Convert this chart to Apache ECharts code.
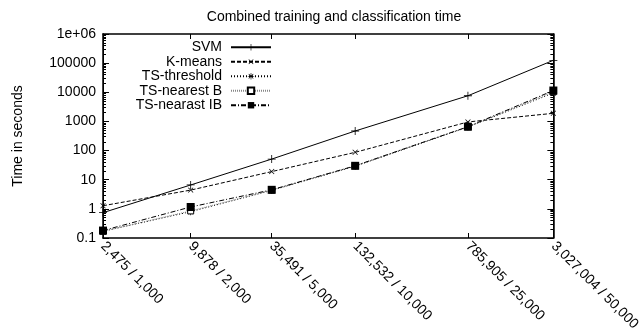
<!DOCTYPE html>
<html><head><meta charset="utf-8">
<script src="https://cdn.jsdelivr.net/npm/echarts@6/dist/echarts.min.js"></script>
<style>html,body{margin:0;padding:0;background:#fff}#c{width:643px;height:335px}</style>
</head><body><div id="c"></div>
<script>
const instances = [2475, 9878, 35491, 132532, 785905, 3027004];
const categories = ['2,475 / 1,000', '9,878 / 2,000', '35,491 / 5,000', '132,532 / 10,000', '785,905 / 25,000', '3,027,004 / 50,000'];
const svm = [0.74, 6.6, 51, 470, 7600, 125000];
const kmeans = [1.28, 4.4, 19, 87, 960, 1900];
const tsThreshold = [0.17, 0.8, 4.3, 29, 640, 9500];
const tsNearestB = [0.17, 0.85, 4.4, 30, 650, 10500];
const tsNearestIB = [0.18, 1.16, 4.5, 30, 660, 11500];
const yTicks = [0.1, 1, 10, 100, 1000, 10000, 100000, 1000000];
const yTickLabels = ['0.1', '1', '10', '100', '1000', '10000', '100000', '1e+06'];

const minorY = [];
for (let d = -1; d < 6; d++) for (let m = 2; m <= 9; m++) minorY.push(m * Math.pow(10, d));

function nearestIdx(arr, v) {
  let best = 0, bd = Infinity;
  arr.forEach((a, i) => { const d = Math.abs(Math.log10(a) - Math.log10(v)); if (d < bd) { bd = d; best = i; } });
  return best;
}
const font = 'Liberation Sans, Arial, sans-serif';
const plus = 'path://M4.5,0 h1 v4.5 h4.5 v1 h-4.5 v4.5 h-1 v-4.5 h-4.5 v-1 h4.5 z';
const star = 'path://M4.5,0 h1 v3.8 l2.7,-2.7 l0.7,0.7 l-2.7,2.7 h3.8 v1 h-3.8 l2.7,2.7 l-0.7,0.7 l-2.7,-2.7 v3.8 h-1 v-3.8 l-2.7,2.7 l-0.7,-0.7 l2.7,-2.7 h-3.8 v-1 h3.8 l-2.7,-2.7 l0.7,-0.7 l2.7,2.7 z';

const xmin = instances[0], xmax = instances[instances.length - 1];
const yAxisBase = { type: 'log', logBase: 10, min: 0.1, max: 1000000, splitLine: { show: false },
  axisLine: { show: true, onZero: false, lineStyle: { color: '#000', width: 1 } } };

function mk(name, data, lineStyle, symbol, size, itemStyle, rotate) {
  return { name, type: 'line', data: data.map((v, i) => [instances[i], v]),
    symbol, symbolSize: size, symbolRotate: rotate || 0, showAllSymbol: true,
    lineStyle: Object.assign({ width: 1, color: '#000' }, lineStyle),
    itemStyle: itemStyle, emphasis: { disabled: true }, animation: false, z: 3 };
}

const chart = echarts.init(document.getElementById('c'));
chart.setOption({
  animation: false,
  textStyle: { fontFamily: font },
  title: { text: 'Combined training and classification time', left: 329, textAlign: 'center', top: 5,
    textStyle: { fontSize: 14, fontWeight: 'normal', color: '#000', fontFamily: font } },
  grid: { left: 103, right: 88, top: 34, bottom: 97 },
  legend: {
    orient: 'vertical', right: 371, top: 40, padding: 0, align: 'right', itemGap: 0, itemWidth: 40, itemHeight: 8,
    textStyle: { fontSize: 14, lineHeight: 14.5, color: '#000', fontFamily: font, padding: [0, 4, 0, 0] },
    data: ['SVM', 'K-means', 'TS-threshold', 'TS-nearest B', 'TS-nearast IB']
  },
  xAxis: [
    { type: 'log', logBase: 10, min: xmin, max: xmax, position: 'bottom',
      axisLine: { show: true, onZero: false, lineStyle: { color: '#000', width: 1.5 } },
      axisTick: { show: true, inside: true, length: 5, customValues: instances, lineStyle: { color: '#000' } },
      axisLabel: { show: true, customValues: instances, rotate: -45, margin: 6, fontSize: 14, color: '#000', fontFamily: font,
        formatter: v => categories[nearestIdx(instances, v)] },
      splitLine: { show: false } },
    { type: 'log', logBase: 10, min: xmin, max: xmax, position: 'top',
      axisLine: { show: true, onZero: false, lineStyle: { color: '#000', width: 1.5 } },
      axisTick: { show: true, inside: true, length: 5, customValues: instances, lineStyle: { color: '#000' } },
      axisLabel: { show: false }, splitLine: { show: false } }
  ],
  yAxis: [
    Object.assign({}, yAxisBase, { position: 'left', name: 'Time in seconds', nameLocation: 'middle', nameGap: 78, nameRotate: 90,
      nameTextStyle: { fontSize: 14, color: '#000', fontFamily: font },
      axisLine: { show: true, onZero: false, lineStyle: { color: '#000', width: 1.5 } },
      axisTick: { show: true, inside: true, length: 6, customValues: yTicks, lineStyle: { color: '#000' } },
      axisLabel: { show: true, customValues: yTicks, margin: 7, fontSize: 14, color: '#000', fontFamily: font,
        formatter: v => yTickLabels[nearestIdx(yTicks, v)] } }),
    Object.assign({}, yAxisBase, { position: 'left',
      axisTick: { show: true, inside: true, length: 3, customValues: minorY, lineStyle: { color: '#000' } },
      axisLabel: { show: false } }),
    Object.assign({}, yAxisBase, { position: 'right',
      axisLine: { show: true, onZero: false, lineStyle: { color: '#000', width: 1.5 } },
      axisTick: { show: true, inside: true, length: 6, customValues: yTicks, lineStyle: { color: '#000' } },
      axisLabel: { show: false } }),
    Object.assign({}, yAxisBase, { position: 'right',
      axisTick: { show: true, inside: true, length: 3, customValues: minorY, lineStyle: { color: '#000' } },
      axisLabel: { show: false } })
  ],
  series: [
    mk('SVM', svm, { type: 'solid' }, plus, 8, { color: '#000' }),
    mk('K-means', kmeans, { type: [4, 2] }, plus, 7, { color: '#000' }, 45),
    mk('TS-threshold', tsThreshold, { type: [1, 2] }, star, 7, { color: '#000' }),
    mk('TS-nearest B', tsNearestB, { type: [1, 1], color: '#888' }, 'rect', 6, { color: '#fff', borderColor: '#000', borderWidth: 1 }),
    mk('TS-nearast IB', tsNearestIB, { type: [5, 2, 1, 2] }, 'rect', 8, { color: '#000' })
  ]
});
</script></body></html>
